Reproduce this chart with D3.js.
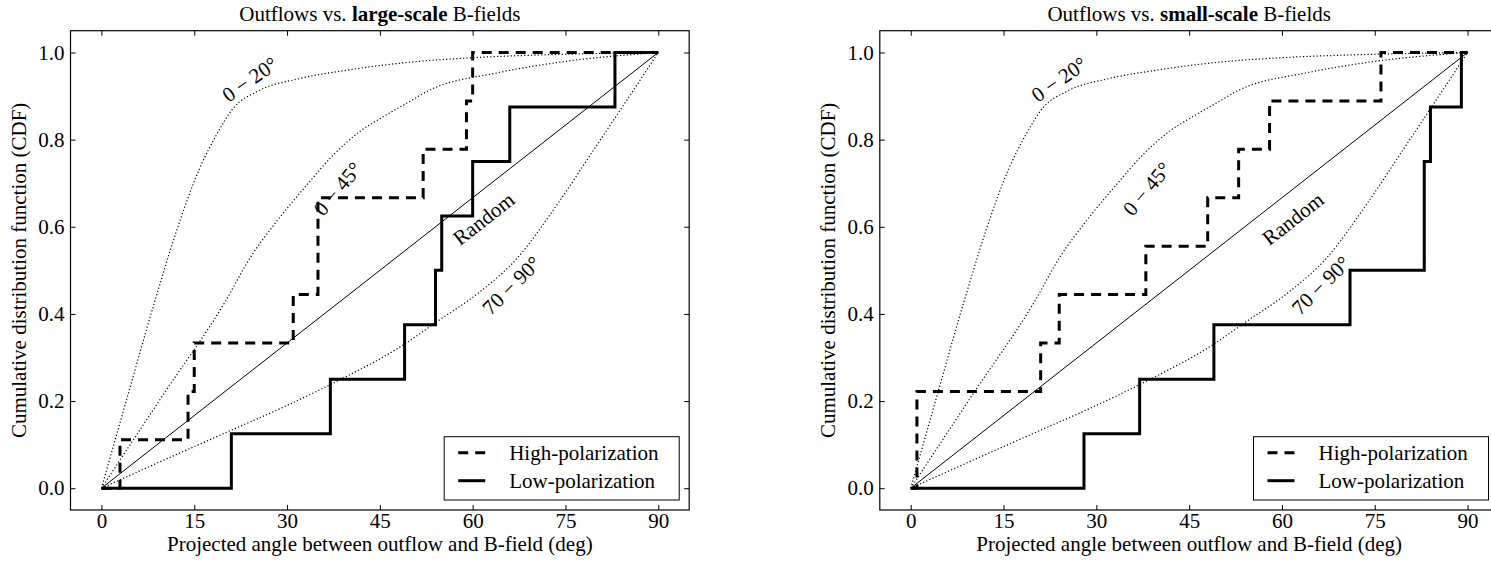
<!DOCTYPE html>
<html>
<head>
<meta charset="utf-8">
<script src="https://cdn.jsdelivr.net/npm/d3@7"></script>
<style>
  html, body { margin: 0; padding: 0; background: #fff; }
  svg { display: block; }
  svg text { font-family: "Liberation Serif", "DejaVu Serif", serif !important; fill: #000; }
</style>
</head>
<body>
<svg id="chart" width="1491" height="562"></svg>
<script>
// ---------------- data ----------------
const xTicks = [0, 15, 30, 45, 60, 75, 90];
const yTicks = [0.0, 0.2, 0.4, 0.6, 0.8, 1.0];

const largeHigh = [3, 14, 15, 31, 35, 35, 52, 59, 60];
const largeLow  = [21, 37, 49, 54, 55, 60, 66, 83];
const smallHigh = [1, 1, 21, 24, 38, 48, 53, 58, 76];
const smallLow  = [28, 37, 49, 71, 83, 83, 84, 89];

// model CDF curves (angle, cdf)
const curve0to20 = [[0,0],[4,0.2],[8.6,0.428],[12.1,0.589],[15.9,0.735],[18.6,0.811],[21.3,0.872],[25.1,0.91],[32,0.94],[40,0.96],[50,0.978],[60,0.988],[75,0.996],[90,1]];
const curve0to45 = [[0,0],[10,0.215],[20,0.428],[24,0.528],[28.3,0.612],[33.2,0.696],[37.5,0.765],[41.8,0.819],[45.6,0.853],[49.4,0.884],[53.1,0.914],[63.9,0.953],[74.7,0.979],[90,1]];
const curve70to90 = [[0,0],[10,0.064],[20,0.127],[30,0.19],[38,0.245],[48.8,0.329],[54.2,0.382],[61.2,0.451],[67.2,0.528],[73.6,0.65],[80.1,0.788],[85.5,0.903],[90,1]];
const curveRandom = [[0,0],[90,1]];

const curveLabels = [
  {text: "0 \u2212 20\u00B0", x: 24.0, y: 0.938, rot: -35},
  {text: "0 \u2212 45\u00B0", x: 38.2, y: 0.687, rot: -50},
  {text: "Random",           x: 61.8, y: 0.618, rot: -38},
  {text: "70 \u2212 90\u00B0", x: 66.3, y: 0.465, rot: -45}
];

const panels = [
  {left: 70.5, titleA: "Outflows vs. ", titleB: "large-scale", titleC: " B-fields", high: largeHigh, low: largeLow, id: "a"},
  {left: 879.8, titleA: "Outflows vs. ", titleB: "small-scale", titleC: " B-fields", high: smallHigh, low: smallLow, id: "b"}
];
const legendItems = [
  {label: "High-polarization", dash: "10,7"},
  {label: "Low-polarization", dash: null}
];

// ---------------- drawing ----------------
const svg = d3.select("#chart");
const plotW = 618.7, plotTop = 30.7, plotBottom = 510;
const FS = 21;

function stepPoints(vals) {
  const n = vals.length;
  const pts = [[0, 0]];
  vals.forEach((v, i) => { pts.push([v, i / n]); pts.push([v, (i + 1) / n]); });
  pts.push([90, 1]);
  return pts;
}

panels.forEach(p => {
  const x = d3.scaleLinear().domain([-5, 95]).range([p.left, p.left + plotW]);
  const y = d3.scaleLinear().domain([-0.05, 1.05]).range([plotBottom, plotTop]);
  const g = svg.append("g");

  g.append("clipPath").attr("id", "clip" + p.id)
    .append("rect").attr("x", p.left).attr("y", plotTop).attr("width", plotW).attr("height", plotBottom - plotTop);

  const plot = g.append("g").attr("clip-path", `url(#clip${p.id})`);
  const smooth = d3.line().x(d => x(d[0])).y(d => y(d[1])).curve(d3.curveMonotoneX);
  const straight = d3.line().x(d => x(d[0])).y(d => y(d[1]));

  [curve0to20, curve0to45, curve70to90].forEach(c => {
    plot.append("path").attr("d", smooth(c)).attr("fill", "none")
      .attr("stroke", "#000").attr("stroke-width", 1.2)
      .attr("stroke-dasharray", "1.2,2.2");
  });
  plot.append("path").attr("d", straight(curveRandom)).attr("fill", "none")
    .attr("stroke", "#000").attr("stroke-width", 1);

  plot.append("path").attr("d", straight(stepPoints(p.high))).attr("fill", "none")
    .attr("stroke", "#000").attr("stroke-width", 3).attr("stroke-dasharray", "10,7");
  plot.append("path").attr("d", straight(stepPoints(p.low))).attr("fill", "none")
    .attr("stroke", "#000").attr("stroke-width", 3).attr("stroke-linejoin", "miter");

  curveLabels.forEach(l => {
    g.append("text").attr("transform", `translate(${x(l.x)},${y(l.y)}) rotate(${l.rot})`)
      .attr("text-anchor", "middle").attr("dominant-baseline", "central")
      .attr("font-size", FS).text(l.text);
  });

  // axes (inward ticks on all sides)
  const tl = 5;
  g.append("g").attr("transform", `translate(0,${plotBottom})`)
    .call(d3.axisBottom(x).tickValues(xTicks).tickSize(-tl).tickPadding(3).tickFormat(d3.format("d")))
    .call(a => { a.select(".domain").remove(); a.selectAll("text").attr("font-size", FS); });
  g.append("g").attr("transform", `translate(0,${plotTop})`)
    .call(d3.axisTop(x).tickValues(xTicks).tickSize(-tl).tickFormat(""))
    .call(a => a.select(".domain").remove());
  g.append("g").attr("transform", `translate(${p.left},0)`)
    .call(d3.axisLeft(y).tickValues(yTicks).tickSize(-tl).tickPadding(6).tickFormat(d3.format(".1f")))
    .call(a => { a.select(".domain").remove(); a.selectAll("text").attr("font-size", FS); });
  g.append("g").attr("transform", `translate(${p.left + plotW},0)`)
    .call(d3.axisRight(y).tickValues(yTicks).tickSize(-tl).tickFormat(""))
    .call(a => a.select(".domain").remove());
  g.selectAll(".tick line").attr("stroke", "#000").attr("stroke-width", 1);

  g.append("rect").attr("x", p.left).attr("y", plotTop).attr("width", plotW).attr("height", plotBottom - plotTop)
    .attr("fill", "none").attr("stroke", "#000").attr("stroke-width", 1.2);

  // title
  const t = g.append("text").attr("x", p.left + plotW / 2).attr("y", 21)
    .attr("text-anchor", "middle").attr("font-size", FS);
  t.append("tspan").text(p.titleA);
  t.append("tspan").attr("font-weight", "bold").text(p.titleB);
  t.append("tspan").text(p.titleC);

  // axis labels
  g.append("text").attr("x", p.left + plotW / 2).attr("y", 551)
    .attr("text-anchor", "middle").attr("font-size", FS)
    .text("Projected angle between outflow and B-field (deg)");
  g.append("text").attr("transform", `translate(${p.left - 52},${(plotTop + plotBottom) / 2}) rotate(-90)`)
    .attr("text-anchor", "middle").attr("dominant-baseline", "central").attr("font-size", FS)
    .text("Cumulative distribution function (CDF)");

  // legend
  const lx = p.left + plotW - 10 - 235, ly = 436.7;
  const lg = g.append("g").attr("transform", `translate(${lx},${ly})`);
  lg.append("rect").attr("width", 235).attr("height", 63.3).attr("fill", "#fff")
    .attr("stroke", "#000").attr("stroke-width", 1);
  legendItems.forEach((it, i) => {
    const yy = 16 + i * 28;
    const ln = lg.append("line").attr("x1", 14).attr("x2", 41).attr("y1", yy).attr("y2", yy)
      .attr("stroke", "#000").attr("stroke-width", 3);
    if (it.dash) ln.attr("stroke-dasharray", it.dash);
    lg.append("text").attr("x", 65).attr("y", yy).attr("dominant-baseline", "central")
      .attr("font-size", FS).text(it.label);
  });
});
</script>
</body>
</html>
